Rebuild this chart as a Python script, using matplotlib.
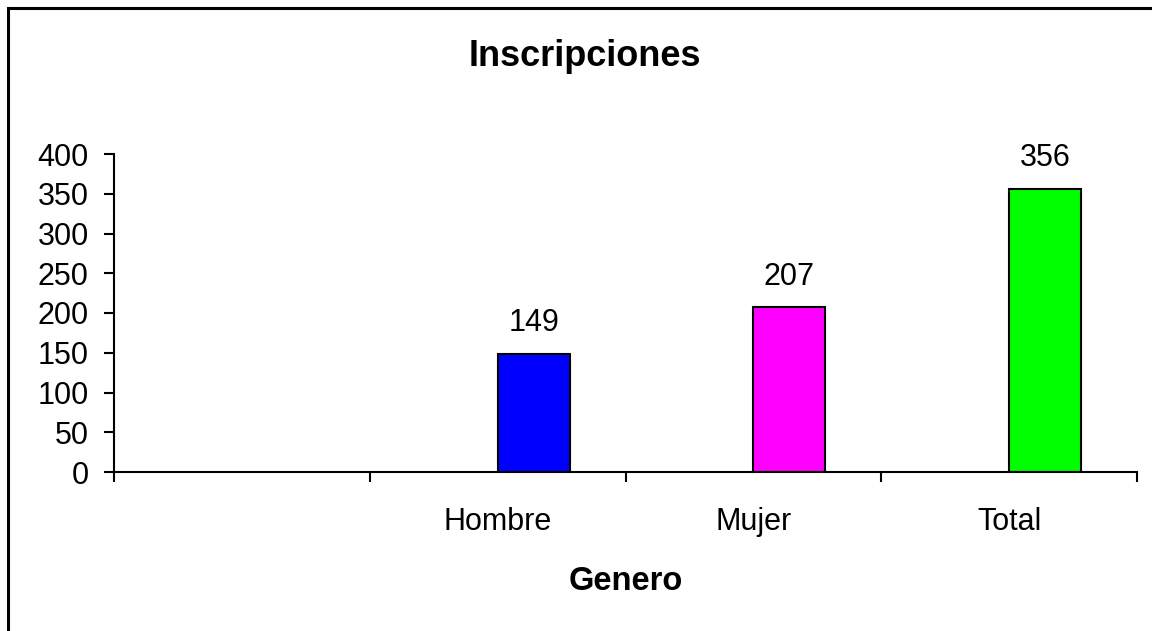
import numpy as np
import matplotlib.pyplot as plt
from matplotlib.patches import Rectangle

# datos del grafico
categorias = ["", "Hombre", "Mujer", "Total"]
valores = [None, 149, 207, 356]
colores = ["white", "#0000FF", "#FF00FF", "#00FF00"]
yticks = [0, 50, 100, 150, 200, 250, 300, 350, 400]

plt.rcParams['font.family'] = ['Liberation Sans', 'DejaVu Sans']

W, H = 1152, 631
fig = plt.figure(figsize=(W / 100, H / 100), dpi=100)
ax = fig.add_axes([114 / W, 1 - 472 / H, (1137 - 114) / W, (472 - 154) / H])

ancho = 72 / 255.75
for i, (cat, v) in enumerate(zip(categorias, valores)):
    if v is None:
        continue
    x = i + 0.5
    ax.bar(x, v, width=ancho, align='edge', color=colores[i],
           edgecolor='black', linewidth=1.5)
    ax.annotate(str(v), xy=(x + ancho / 2, v), xytext=(0, 16.5),
                textcoords='offset points', ha='center', va='baseline',
                fontsize=22)
    # etiqueta de categoria
    ax.annotate(cat, xy=(x, 0), xycoords=('data', 'axes fraction'),
                xytext=(0, -41.8), textcoords='offset points',
                ha='center', va='baseline', fontsize=22)

ax.set_xlim(0, len(categorias))
ax.set_ylim(0, 400)
ax.set_xticks(np.arange(len(categorias) + 1))
ax.set_xticklabels([])
ax.set_yticks(yticks)
ax.tick_params(axis='x', direction='out', length=7.2, width=1.5)
ax.tick_params(axis='y', direction='out', length=7.2, width=1.5,
               pad=11, labelsize=22)

for s in ['top', 'right']:
    ax.spines[s].set_visible(False)
for s in ['left', 'bottom']:
    ax.spines[s].set_linewidth(1.5)

ax.annotate("Genero", xy=(0.5, 0), xycoords='axes fraction',
            xytext=(0, -85), textcoords='offset points',
            ha='center', va='baseline', fontsize=23.5, fontweight='bold')

fig.text(585 / W, 1 - 66 / H, "Inscripciones", ha='center', va='baseline',
         fontsize=26, fontweight='bold')

# marco del grafico (solo se ve arriba y a la izquierda)
marco = Rectangle((7.5 / W, -0.1), 1.2, 1.1 - 7.5 / H, transform=fig.transFigure,
                  fill=False, edgecolor='black', linewidth=2.2)
fig.add_artist(marco)

fig.savefig("out.png", dpi=100)
